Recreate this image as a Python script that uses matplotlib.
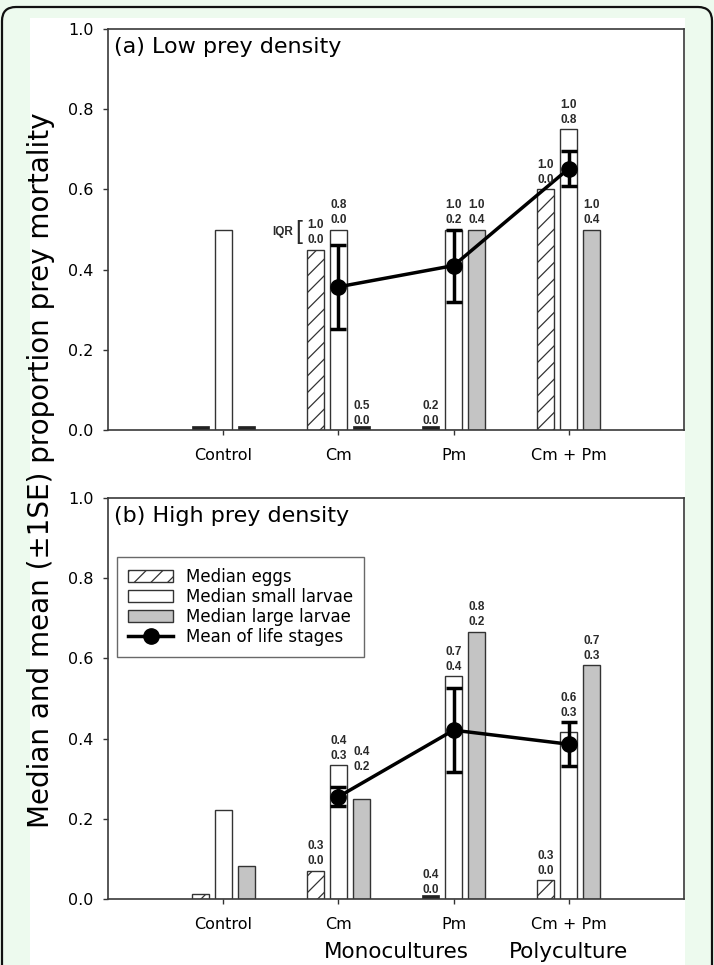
import numpy as np
import matplotlib
matplotlib.use('Agg')
import matplotlib.pyplot as plt
from matplotlib.patches import Patch, Rectangle, FancyBboxPatch
from matplotlib.lines import Line2D
from matplotlib.transforms import blended_transform_factory

# categories
groups = ['Control', 'Cm', 'Pm', 'Cm + Pm']

# (a) low prey density : medians per life stage
low_eggs = [0.0, 0.45, 0.0, 0.60]
low_small = [0.50, 0.50, 0.50, 0.75]
low_large = [0.0, 0.0, 0.50, 0.50]
low_mean = [np.nan, 0.357, 0.41, 0.652]
low_se = [np.nan, 0.105, 0.09, 0.044]
# IQR (q1, q3)
low_eggs_iqr = [None, (0.0, 1.0), (0.0, 0.2), (0.0, 1.0)]
low_small_iqr = [None, (0.0, 0.8), (0.2, 1.0), (0.8, 1.0)]
low_large_iqr = [None, (0.0, 0.5), (0.4, 1.0), (0.4, 1.0)]

# (b) high prey density
high_eggs = [0.012, 0.07, 0.0, 0.047]
high_small = [0.222, 0.333, 0.555, 0.416]
high_large = [0.083, 0.25, 0.667, 0.583]
high_mean = [np.nan, 0.255, 0.421, 0.386]
high_se = [np.nan, 0.024, 0.105, 0.055]
high_eggs_iqr = [None, (0.0, 0.3), (0.0, 0.4), (0.0, 0.3)]
high_small_iqr = [None, (0.3, 0.4), (0.4, 0.7), (0.3, 0.6)]
high_large_iqr = [None, (0.2, 0.4), (0.2, 0.8), (0.3, 0.7)]

EDGE = '#333333'
GREY = '#c4c4c4'
plt.rcParams['hatch.linewidth'] = 0.9
plt.rcParams['hatch.color'] = EDGE

fig = plt.figure(figsize=(7.14, 9.65), dpi=100)
fig.patch.set_facecolor('#edfaee')

# page background: rounded frame + white panel
bg = fig.add_axes([0, 0, 1, 1], zorder=-5)
bg.set_xlim(0, 714)
bg.set_ylim(965, 0)
bg.axis('off')
bg.add_patch(FancyBboxPatch((2, 7), 710, 1000, boxstyle='round,pad=0,rounding_size=14',
                            fc='#edfaee', ec='#111111', lw=1.6))
bg.add_patch(Rectangle((30, 18), 655, 960, fc='white', ec='none'))

x = np.arange(1, 5)
W = 0.15
OFF = 0.2
ZERO_STRIP = 0.01   # zero medians are shown as a dark strip


def annot(ax, xp, ytop, q, lift=0):
    for k, v in enumerate(q):
        ax.annotate(f'{v:.1f}', (xp, ytop), xytext=(0, 2.5 + lift + k * 10.8),
                    textcoords='offset points', ha='center', va='bottom',
                    fontsize=8.5, fontweight='bold', family='Liberation Sans',
                    color='#2a2a2a', zorder=6)


def panel(ax, eggs, small, large, mean, se, iqrs, title, lifts):
    stages = [(-OFF, eggs, 'white', '//'),
              (0.0, small, 'white', None),
              (OFF, large, GREY, None)]
    for (off, vals, fc, hatch), iqr in zip(stages, iqrs):
        vals = np.asarray(vals)
        zero = vals == 0
        ax.bar(x[~zero] + off, vals[~zero], width=W, facecolor=fc, hatch=hatch,
               edgecolor=EDGE, linewidth=1.0, zorder=2)
        if zero.any():
            ax.bar(x[zero] + off, ZERO_STRIP, width=W, facecolor='#222222',
                   edgecolor='#222222', linewidth=0.5, zorder=2)
        for i in range(4):
            if iqr[i] is None:
                continue
            top = vals[i]
            if off == 0 and not np.isnan(mean[i]):
                top = max(top, mean[i] + se[i])
            annot(ax, x[i] + off, top, iqr[i], lifts.get((i, off), 0))
    ax.errorbar(x, mean, yerr=se, fmt='-o', color='black', lw=2.5, ms=11,
                capsize=6, capthick=2.5, elinewidth=2.5, zorder=4)
    ax.set_xlim(0, 5)
    ax.set_ylim(0, 1.0)
    ax.set_yticks(np.arange(0, 1.01, 0.2))
    ax.set_yticklabels([f'{t:.1f}' for t in np.arange(0, 1.01, 0.2)])
    ax.set_xticks(x)
    ax.set_xticklabels(groups)
    ax.tick_params(axis='both', direction='out', length=3.5, width=1, color=EDGE,
                   labelsize=11.5)
    ax.tick_params(axis='y', pad=7)
    ax.tick_params(axis='x', pad=9.5)
    for s in ax.spines.values():
        s.set_color('#3a3a3a')
        s.set_linewidth(1.2)
    ax.text(0.01, 0.955, title, transform=ax.transAxes, fontsize=16,
            ha='left', va='center')


ax1 = fig.add_axes([108 / 714, 1 - 430 / 965, 576 / 714, 401 / 965])
ax2 = fig.add_axes([108 / 714, 1 - 899 / 965, 576 / 714, 401 / 965])

panel(ax1, low_eggs, low_small, low_large, low_mean, low_se,
      [low_eggs_iqr, low_small_iqr, low_large_iqr], '(a) Low prey density', {})
panel(ax2, high_eggs, high_small, high_large, high_mean, high_se,
      [high_eggs_iqr, high_small_iqr, high_large_iqr], '(b) High prey density',
      {(1, OFF): 16})

# IQR key next to the Cm eggs bar
ax1.annotate('IQR', (x[1] - OFF, low_eggs[1]), xytext=(-23.4, 12.6),
             textcoords='offset points', ha='center', va='center',
             fontsize=8.5, fontweight='bold', family='Liberation Sans', color='#2a2a2a')
ax1.annotate('[', (x[1] - OFF, low_eggs[1]), xytext=(-12, 12.6),
             textcoords='offset points', ha='center', va='center',
             fontsize=18, family='Liberation Sans', color='#2a2a2a')

handles = [Patch(facecolor='white', edgecolor=EDGE, hatch='//', lw=1),
           Patch(facecolor='white', edgecolor=EDGE, lw=1),
           Patch(facecolor=GREY, edgecolor=EDGE, lw=1),
           Line2D([], [], color='black', lw=2.5, marker='o', ms=11)]
labels = ['Median eggs', 'Median small larvae', 'Median large larvae', 'Mean of life stages']
leg = ax2.legend(handles, labels, loc='upper left', bbox_to_anchor=(0.016, 0.853),
                 borderaxespad=0, fontsize=12, frameon=True, fancybox=False,
                 edgecolor='#444444', handlelength=2.7, handleheight=0.72,
                 labelspacing=0.12, handletextpad=0.8, borderpad=0.65)
leg.get_frame().set_linewidth(1.0)

tr = blended_transform_factory(ax2.transData, fig.transFigure)
ax2.text(2.5, 7 / 965, 'Monocultures', transform=tr, ha='center', va='baseline', fontsize=15.5)
ax2.text(4, 7 / 965, 'Polyculture', transform=tr, ha='center', va='baseline', fontsize=15.5)

fig.text(41 / 714, 1 - 470 / 965, 'Median and mean (\u00b11SE) proportion prey mortality',
         rotation=90, ha='center', va='center', fontsize=20)

fig.savefig('out.png', dpi=100, facecolor=fig.get_facecolor())
